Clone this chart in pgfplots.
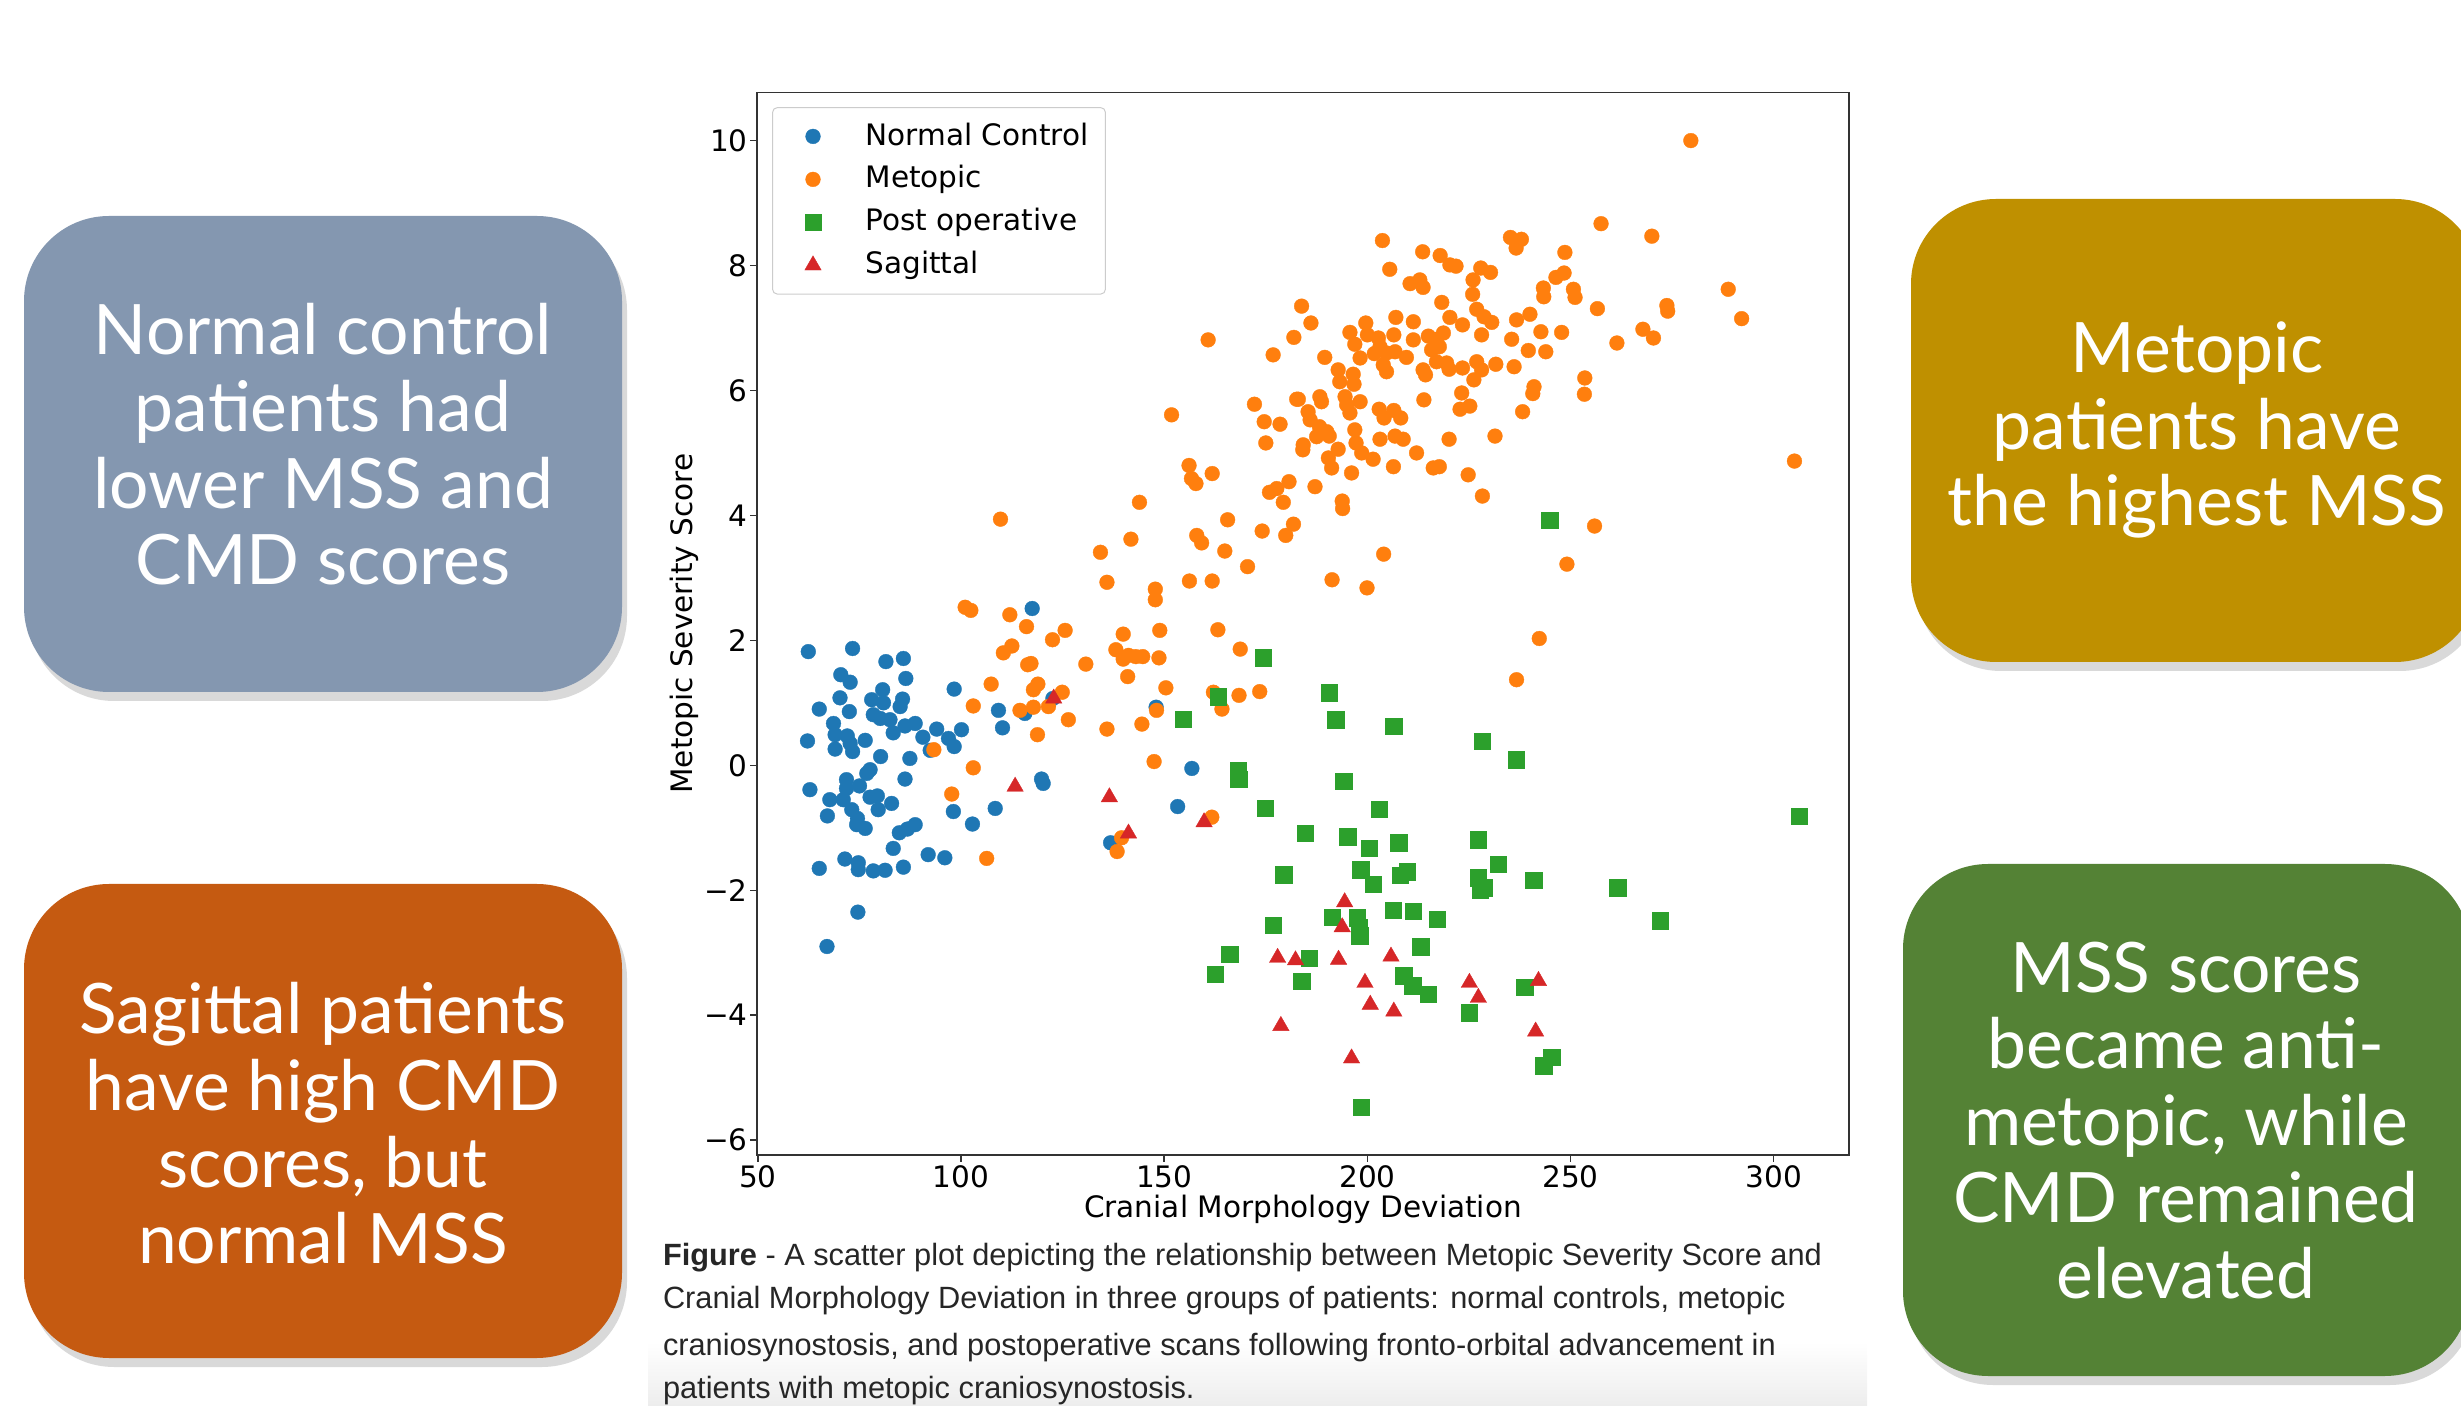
\documentclass[border=0pt]{standalone}
\usepackage{fontspec}
\usepackage{pgfplots}
\pgfplotsset{compat=1.18}
\usetikzlibrary{shadows}
\setmainfont{DejaVu Sans}
\newfontfamily\capfont{Liberation Sans}
\newfontfamily\boxfont{Lato}
\definecolor{mblue}{HTML}{1F77B4}
\definecolor{morange}{HTML}{FF7F0E}
\definecolor{mgreen}{HTML}{2CA02C}
\definecolor{mred}{HTML}{D62728}
\definecolor{boxA}{HTML}{8497B0}
\definecolor{boxB}{HTML}{BF9000}
\definecolor{boxC}{HTML}{C55A11}
\definecolor{boxD}{HTML}{548235}
\begin{document}
\begin{tikzpicture}
\useasboundingbox (0,0) rectangle (246.1mm,140.5mm);
\begin{scope}
\clip (0,0) rectangle (246.1mm,140.5mm);
\shade[top color=white,bottom color=black!7] (64.8mm,0) rectangle (186.7mm,6.3mm);
\tikzset{box/.style={rounded corners=8.5mm, drop shadow={shadow xshift=0.5mm,shadow yshift=-0.9mm,opacity=0.3}}}
\path[box, fill=boxA] (2.4mm,71.3mm) rectangle (62.2mm,118.9mm);
\path[box, fill=boxB] (191.1mm,74.3mm) rectangle (248.0mm,120.6mm);
\path[box, fill=boxC] (2.4mm,4.7mm) rectangle (62.2mm,52.1mm);
\path[box, fill=boxD] (190.3mm,2.9mm) rectangle (247.0mm,54.1mm);
\tikzset{btxt/.style={text=white, align=center, inner sep=0pt, font=\boxfont\fontsize{19.8}{21.8}\selectfont}}
\node[btxt] at (32.3mm,96.05mm) {Normal control\\patients had\\lower MSS and\\CMD scores};
\node[btxt] at (219.7mm,97.5mm) {Metopic\\patients have\\the highest MSS};
\node[btxt] at (32.3mm,28.15mm) {Sagittal patients\\have high CMD\\scores, but\\normal MSS};
\node[btxt] at (218.6mm,28.45mm) {MSS scores\\became anti-\\metopic, while\\CMD remained\\elevated};
\tikzset{ctxt/.style={anchor=base west, inner sep=0pt, text=black!85, font=\capfont\fontsize{8.75}{10}\selectfont}}
\node[ctxt] at (66.23mm,13.9mm) {\textbf{Figure} - A scatter plot depicting the relationship between Metopic Severity Score and};
\node[ctxt] at (66.23mm,9.6mm) {Cranial Morphology Deviation in three groups of patients: normal controls, metopic};
\node[ctxt] at (66.23mm,5.0mm) {craniosynostosis, and postoperative scans following fronto-orbital advancement in};
\node[ctxt] at (66.23mm,0.7mm) {patients with metopic craniosynostosis.};
\end{scope}
\begin{axis}[
  at={(75.71mm,25.01mm)}, anchor=south west, scale only axis,
  width=109.18mm, height=106.24mm,
  xmin=49.8, xmax=318.5, ymin=-6.236, ymax=10.77,
  xtick={50,100,150,200,250,300}, xticklabels={50,100,150,200,250,300},
  ytick={-6,-4,-2,0,2,4,6,8,10}, yticklabels={−6,−4,−2,0,2,4,6,8,10},
  tick pos=left, tick align=outside, major tick length=0.7mm,
  tick style={black!80, line width=0.15mm},
  axis line style={black!80, line width=0.15mm},
  ticklabel style={font=\fontsize{8.4}{10}\selectfont},
  xticklabel style={yshift=0.85mm},
  yticklabel style={xshift=1.0mm},
  label style={font=\fontsize{8.4}{10}\selectfont},
  xlabel={Cranial Morphology Deviation}, ylabel={Metopic Severity Score},
  xlabel style={at={(axis description cs:0.5,-0.0508)}, anchor=center},
  ylabel style={at={(axis description cs:-0.0669,0.5)}, anchor=center},
  legend style={at={(axis description cs:0.01365,0.9863)}, anchor=north west,
    draw=black!20, line width=0.1mm, rounded corners=0.5mm, fill=white,
    inner xsep=1mm, inner ysep=0.8mm, row sep=0.12mm,
    font=\fontsize{8.4}{10}\selectfont, cells={anchor=west}},
  legend image code/.code={\path (0cm,0cm) (0.75cm,0cm); \draw[mark repeat=2,mark phase=2,#1] plot coordinates {(0cm,0cm) (0.3cm,0cm) (0.6cm,0cm)};},
]
\addplot[only marks, mark=*, mark size=0.74mm, mblue, mark options={draw=mblue, fill=mblue, line width=0.1pt}] coordinates {
(62.4,1.82)(73.3,1.87)(81.5,1.66)(85.8,1.71)(70.4,1.45)(72.7,1.33)(86.4,1.39)(80.7,1.21)(98.3,1.22)(70.2,1.08)
(78.0,1.05)(80.9,1.00)(85.6,1.06)(85.0,0.94)(65.1,0.90)(72.5,0.86)(109.2,0.88)(78.4,0.81)(80.1,0.75)(82.5,0.73)
(68.6,0.67)(86.2,0.63)(88.7,0.67)(110.2,0.60)(69.0,0.49)(72.0,0.47)(83.3,0.52)(94.0,0.58)(100.1,0.57)(62.2,0.39)
(72.7,0.35)(76.4,0.40)(90.6,0.45)(96.9,0.43)(69.0,0.26)(73.3,0.22)(92.4,0.24)(98.3,0.30)(80.2,0.14)(87.4,0.11)
(77.6,-0.07)(71.8,-0.23)(76.8,-0.13)(86.2,-0.22)(75.0,-0.33)(71.8,-0.37)(62.8,-0.39)(119.8,-0.22)(120.2,-0.29)(67.7,-0.55)
(71.0,-0.55)(77.6,-0.51)(79.4,-0.49)(82.9,-0.61)(79.6,-0.71)(73.1,-0.71)(98.1,-0.74)(108.4,-0.69)(67.1,-0.81)(74.5,-0.85)
(74.3,-0.95)(76.4,-1.01)(84.8,-1.08)(86.8,-1.02)(88.7,-0.95)(102.8,-0.94)(83.3,-1.33)(91.9,-1.43)(96.0,-1.48)(71.4,-1.50)
(74.7,-1.56)(65.1,-1.65)(74.7,-1.67)(78.4,-1.69)(81.3,-1.68)(85.8,-1.63)(117.5,2.51)(74.6,-2.35)(67.0,-2.90)(156.8,-0.05)
(153.3,-0.66)(136.8,-1.24)(122.6,1.07)(148.0,0.93)(115.7,0.83)
};
\addlegendentry{Normal Control}
\addplot[only marks, mark=*, mark size=0.74mm, morange, mark options={draw=morange, fill=morange, line width=0.1pt}] coordinates {
(101.0,2.53)(102.4,2.48)(112.0,2.41)(116.1,2.22)(122.5,2.01)(125.6,2.16)(110.4,1.80)(112.5,1.91)(116.4,1.61)(117.2,1.63)
(107.4,1.30)(117.8,1.21)(118.9,1.30)(124.9,1.17)(103.0,0.95)(114.5,0.88)(117.8,0.93)(121.5,0.94)(126.4,0.73)(118.8,0.49)
(93.3,0.25)(103.0,-0.04)(97.7,-0.46)(106.3,-1.49)
(148.9,2.16)(139.9,2.10)(163.2,2.17)(168.7,1.86)(138.1,1.85)(139.9,1.70)(141.2,1.76)(143.0,1.74)(144.7,1.74)(148.7,1.72)
(141.0,1.42)(130.7,1.62)(150.4,1.24)(162.1,1.17)(168.4,1.12)(173.5,1.18)(148.1,0.88)(164.2,0.90)(144.5,0.66)(135.9,0.58)
(147.5,0.06)(161.7,-0.83)(139.5,-1.16)(138.4,-1.38)
(151.8,5.61)(172.2,5.78)(182.6,5.86)(174.6,5.50)(178.5,5.46)(175.0,5.16)(156.1,4.80)(161.8,4.67)(156.7,4.59)(157.8,4.51)
(143.9,4.21)(175.9,4.37)(177.7,4.43)(180.7,4.54)(179.3,4.21)(109.7,3.94)(165.6,3.93)(174.1,3.75)(181.8,3.86)(179.9,3.68)
(141.8,3.62)(158.0,3.68)(159.2,3.56)(164.9,3.43)(134.3,3.41)(170.5,3.18)(135.9,2.93)(156.2,2.95)(161.8,2.95)(147.8,2.82)
(147.8,2.65)(160.8,6.81)(176.8,6.57)
(203.7,8.40)(213.6,8.22)(217.9,8.16)(220.3,8.01)(221.8,7.99)(205.5,7.94)(235.2,8.45)(237.9,8.42)(236.6,8.28)(248.6,8.21)
(227.9,7.96)(230.3,7.89)(226.0,7.77)(210.5,7.71)(212.9,7.77)(213.7,7.65)(225.9,7.54)(218.3,7.41)(246.4,7.81)(248.4,7.88)
(243.3,7.64)(243.4,7.50)(250.7,7.62)(251.1,7.49)(183.8,7.35)(186.1,7.08)(181.9,6.85)(226.9,7.30)(228.7,7.18)(230.6,7.09)
(220.3,7.17)(223.4,7.05)(207.0,7.17)(211.3,7.10)(236.7,7.13)(240.0,7.22)(195.7,6.93)(199.6,7.08)(200.0,6.89)(202.7,6.84)
(203.1,6.70)(206.5,6.89)(196.9,6.74)(211.3,6.81)(215.0,6.87)(217.0,6.82)(218.7,6.92)(228.1,6.89)(235.5,6.82)(242.7,6.94)
(247.8,6.93)(215.8,6.65)(217.7,6.70)(239.6,6.64)(243.9,6.62)(189.5,6.53)(198.2,6.52)(201.7,6.59)(204.7,6.60)(206.8,6.62)
(209.6,6.53)(203.9,6.41)(204.7,6.30)(217.0,6.46)(219.5,6.44)(220.1,6.34)(213.7,6.33)(214.3,6.25)(223.4,6.36)(226.9,6.46)
(228.1,6.33)(226.2,6.17)(231.6,6.42)(236.1,6.38)(192.8,6.33)(193.2,6.14)(196.5,6.26)(196.7,6.10)(241.0,6.06)(240.7,5.95)
(185.4,5.66)(185.9,5.53)(188.3,5.90)(188.7,5.82)(194.5,5.90)(194.9,5.77)(195.7,5.64)(198.2,5.82)(188.2,5.42)(190.0,5.34)
(190.6,5.27)(187.5,5.26)(184.2,5.13)(184.1,5.05)(192.8,5.06)(190.4,4.92)(191.2,4.76)(196.9,5.37)(197.2,5.16)(198.6,5.00)
(196.1,4.68)(201.4,4.90)(203.1,5.22)(202.9,5.70)(204.1,5.56)(206.5,5.68)(208.2,5.56)(206.8,5.27)(208.8,5.22)(206.4,4.78)
(212.1,5.00)(213.9,5.85)(187.1,4.46)(220.1,5.22)(216.2,4.76)(217.7,4.78)(224.8,4.65)(228.3,4.31)(223.2,5.96)(222.8,5.70)
(225.2,5.75)(231.4,5.27)(238.2,5.66)(183.0,5.86)
(279.6,10.00)(257.5,8.67)(270.0,8.47)(288.8,7.62)(292.1,7.15)(256.6,7.31)(273.7,7.36)(273.9,7.27)(267.8,6.98)(270.4,6.84)
(261.4,6.76)(253.5,6.20)(253.4,5.94)(305.1,4.87)(255.9,3.83)(249.1,3.22)(204.0,3.38)(191.3,2.97)(199.9,2.84)(193.8,4.23)
(193.9,4.11)(242.3,2.03)(236.7,1.37)
};
\addlegendentry{Metopic}
\addplot[only marks, mark=square*, mark size=0.82mm, mgreen, mark options={draw=mgreen, fill=mgreen, line width=0.1pt}] coordinates {
(174.4,1.72)(163.2,1.10)(154.6,0.74)(168.2,-0.08)(168.3,-0.22)(174.8,-0.69)(179.4,-1.75)(176.8,-2.56)(166.1,-3.02)(162.6,-3.34)
(244.9,3.92)(190.6,1.16)(192.2,0.73)(206.5,0.63)(228.2,0.39)(236.6,0.09)(194.2,-0.25)(202.9,-0.70)(306.2,-0.81)(184.7,-1.09)
(195.1,-1.14)(200.5,-1.33)(207.7,-1.24)(227.3,-1.19)(232.2,-1.58)(198.3,-1.67)(201.4,-1.90)(208.0,-1.76)(209.8,-1.70)(227.2,-1.80)
(227.8,-2.00)(228.6,-1.96)(240.9,-1.84)(261.6,-1.96)(206.4,-2.32)(211.3,-2.33)(191.3,-2.43)(197.5,-2.44)(197.9,-2.59)(198.1,-2.73)
(217.2,-2.46)(272.0,-2.49)(213.1,-2.90)(185.6,-3.09)(183.8,-3.46)(208.9,-3.37)(211.1,-3.53)(215.0,-3.66)(238.7,-3.55)(225.1,-3.96)
(245.3,-4.67)(243.4,-4.81)(198.5,-5.47)
};
\addlegendentry{Post operative}
\addplot[only marks, mark=triangle*, mark size=0.95mm, mred, mark options={draw=mred, fill=mred, line width=0.1pt}] coordinates {
(122.8,1.07)(113.3,-0.34)(136.5,-0.51)(141.2,-1.09)(159.8,-0.91)(177.9,-3.08)(182.3,-3.12)(178.7,-4.17)
(194.4,-2.19)(193.8,-2.59)(192.9,-3.11)(205.8,-3.06)(199.4,-3.48)(200.7,-3.83)(206.5,-3.94)(225.1,-3.48)(227.3,-3.72)(242.1,-3.45)
(241.4,-4.26)(196.1,-4.69)
};
\addlegendentry{Sagittal}
\end{axis}
\end{tikzpicture}
\end{document}
